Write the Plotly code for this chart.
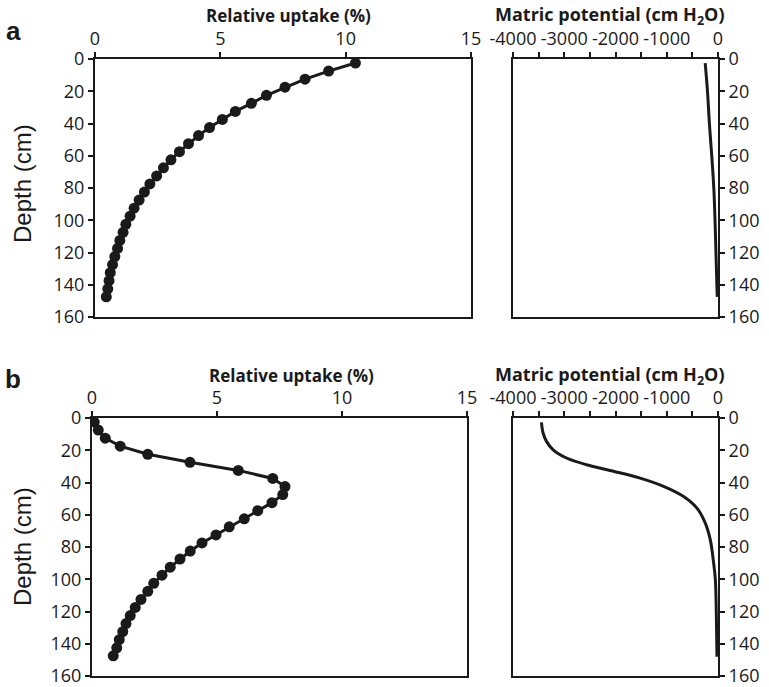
import plotly.graph_objects as go

# ---------------- data ----------------
depth = [2.5, 7.5, 12.5, 17.5, 22.5, 27.5, 32.5, 37.5, 42.5, 47.5,
         52.5, 57.5, 62.5, 67.5, 72.5, 77.5, 82.5, 87.5, 92.5, 97.5,
         102.5, 107.5, 112.5, 117.5, 122.5, 127.5, 132.5, 137.5, 142.5, 147.5]

uptake_a = [10.39, 9.32, 8.38, 7.58, 6.84, 6.24, 5.60, 5.08, 4.57, 4.13,
            3.73, 3.37, 3.03, 2.73, 2.46, 2.19, 1.97, 1.76, 1.56, 1.40,
            1.23, 1.12, 0.99, 0.90, 0.79, 0.70, 0.61, 0.56, 0.51, 0.45]

uptake_b = [0.09, 0.25, 0.53, 1.13, 2.23, 3.92, 5.85, 7.23, 7.72, 7.63,
            7.20, 6.63, 6.09, 5.49, 4.96, 4.40, 3.93, 3.52, 3.13, 2.80,
            2.47, 2.23, 1.96, 1.73, 1.53, 1.36, 1.23, 1.09, 0.99, 0.85]

mp_depth_a = [2.5, 20, 40, 60, 80, 100, 120, 147.5]
mp_a = [-250, -205, -168, -122, -82, -58, -40, -15]

mp_depth_b = [2.7, 9.3, 14.5, 19.7, 24.8, 29, 33, 37.3, 42.4, 48.7,
              55.9, 65.2, 75.6, 90, 100, 121, 148]
mp_b = [-3445, -3413, -3347, -3217, -2956, -2564, -2042, -1520, -1063, -672,
        -411, -248, -150, -85, -52, -33, -20]

uptake_ticks = [0, 5, 10, 15]
mp_tickvals = [-4000, -3000, -2000, -1000, 0]
mp_ticktext = ["-4000", "-3000", "-2000", "-1000", "0"]
mp_minor = [-3500, -2500, -1500, -500]
depth_ticks = [0, 20, 40, 60, 80, 100, 120, 140, 160]

# ---------------- figure ----------------
W, H = 769, 687
INK = "#1a1a1a"
TICKFONT = dict(family="Open Sans", size=18, color=INK)

fig = go.Figure()

fig.add_trace(go.Scatter(x=uptake_a, y=depth, mode="lines+markers",
                         line=dict(color=INK, width=3),
                         marker=dict(size=11, color=INK),
                         xaxis="x", yaxis="y"))
fig.add_trace(go.Scatter(x=mp_a, y=mp_depth_a, mode="lines",
                         line=dict(color=INK, width=3, shape="spline"),
                         xaxis="x2", yaxis="y2"))
fig.add_trace(go.Scatter(x=uptake_b, y=depth, mode="lines+markers",
                         line=dict(color=INK, width=3),
                         marker=dict(size=11, color=INK),
                         xaxis="x3", yaxis="y3"))
fig.add_trace(go.Scatter(x=mp_b, y=mp_depth_b, mode="lines",
                         line=dict(color=INK, width=3, shape="spline"),
                         xaxis="x4", yaxis="y4"))


def px_x(a, b):
    return [a / W, b / W]


def px_y(top, bottom):
    return [1 - bottom / H, 1 - top / H]


common = dict(showline=True, mirror=True, linecolor=INK, linewidth=2,
              showgrid=False, zeroline=False, ticks="outside", ticklen=5,
              tickwidth=2, tickcolor=INK, tickfont=TICKFONT, fixedrange=True,
              automargin=False, ticklabeloverflow="allow")

ax_up = dict(common, side="top", range=[0, 15], tickmode="array",
             tickvals=uptake_ticks, ticktext=[str(v) for v in uptake_ticks])
ax_mp = dict(common, side="top", range=[-4000, 0], tickmode="array",
             tickvals=mp_tickvals, ticktext=mp_ticktext,
             minor=dict(tickmode="array", tickvals=mp_minor, ticks="outside",
                        ticklen=5, tickwidth=2, tickcolor=INK, showgrid=False))
ax_depth_l = dict(common, side="left", range=[160, 0], tickmode="array",
                  tickvals=depth_ticks, ticktext=[str(v) for v in depth_ticks])
ax_depth_r = dict(common, side="right", range=[160, 0], tickmode="array",
                  tickvals=depth_ticks, ticktext=[str(v) for v in depth_ticks])

fig.update_layout(
    width=W, height=H, margin=dict(l=0, r=0, t=0, b=0, autoexpand=False),
    paper_bgcolor="white", plot_bgcolor="white", showlegend=False,
    xaxis=dict(ax_up, domain=px_x(95, 471), anchor="y"),
    yaxis=dict(ax_depth_l, domain=px_y(59, 317), anchor="x"),
    xaxis2=dict(ax_mp, domain=px_x(513, 718), anchor="y2"),
    yaxis2=dict(ax_depth_r, domain=px_y(59, 317), anchor="x2"),
    xaxis3=dict(ax_up, domain=px_x(92, 467), anchor="y3"),
    yaxis3=dict(ax_depth_l, domain=px_y(418, 676), anchor="x3"),
    xaxis4=dict(ax_mp, domain=px_x(513, 718), anchor="y4"),
    yaxis4=dict(ax_depth_r, domain=px_y(418, 676), anchor="x4"),
)

UPTITLEFONT = dict(family="Open Sans", size=17, color=INK)
MPTITLEFONT = dict(family="Open Sans", size=18, color=INK)
LETTERFONT = dict(family="Liberation Sans", size=26, color=INK)
DEPTHFONT = dict(family="Liberation Sans", size=24, color=INK)


def ann(text, x, y, font, angle=0):
    fig.add_annotation(text=text, x=x / W, y=1 - y / H, xref="paper", yref="paper",
                       xanchor="center", yanchor="middle", showarrow=False,
                       font=font, textangle=angle)


ann("<b>Relative uptake (%)</b>", 288, 15, UPTITLEFONT)
ann("<b>Matric potential (cm H<sub>2</sub>O)</b>", 610, 15, MPTITLEFONT)
ann("<b>Relative uptake (%)</b>", 291, 375, UPTITLEFONT)
ann("<b>Matric potential (cm H<sub>2</sub>O)</b>", 610, 375, MPTITLEFONT)
ann("<b>a</b>", 13, 31, LETTERFONT)
ann("<b>b</b>", 13, 379, LETTERFONT)
ann("Depth (cm)", 22, 184, DEPTHFONT, angle=-90)
ann("Depth (cm)", 22, 547, DEPTHFONT, angle=-90)

fig.write_html("out.html")
